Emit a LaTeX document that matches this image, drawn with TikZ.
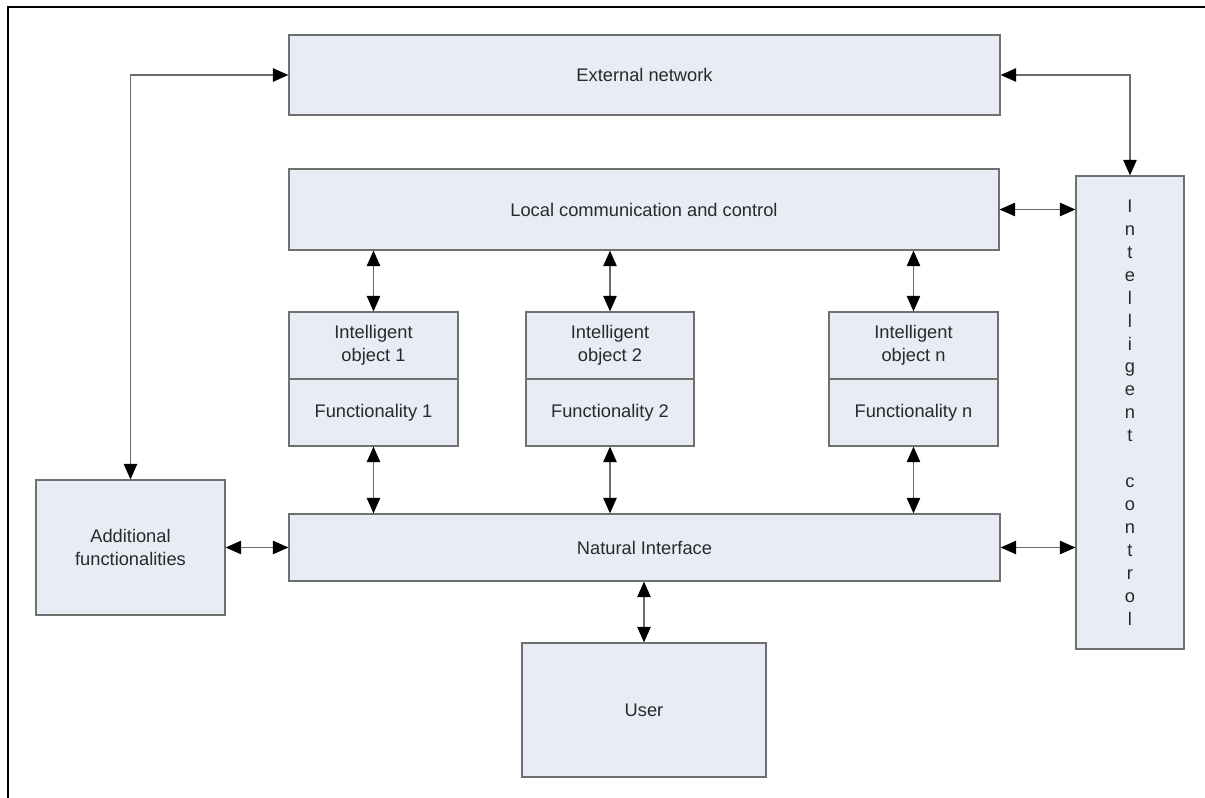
\documentclass[tikz,border=0pt]{standalone}
\usepackage{fontspec}
\setmainfont{Liberation Sans}
\usetikzlibrary{arrows.meta}
\definecolor{boxfill}{HTML}{E8ECF5}
\definecolor{boxline}{HTML}{707070}
\definecolor{boxtext}{HTML}{2A2A2A}
\definecolor{linkline}{HTML}{6A6A6A}

\begin{document}
\begin{tikzpicture}
\tikzset{block/.style={draw=boxline,line width=0.9pt,fill=boxfill,text=boxtext,align=center,inner sep=0pt,font=\fontsize{13}{16.3}\selectfont},
  link/.style={>={Triangle[length=11pt,width=9.5pt,color=black]},<->,draw=linkline,line width=1pt}};
\useasboundingbox (0,0) rectangle (30.125,-19.95);
\draw[line width=0.8pt] (0.2,-19.95) -- (0.2,-0.175) -- (30.125,-0.175);
    \node[block,minimum width=17.775cm,minimum height=2cm] (ext) at (16.1125,-1.875) {External network};
    \node[block,minimum width=17.75cm,minimum height=2.025cm] (lcc) at (16.1,-5.2375) {Local communication and control};
    \node[block,minimum width=2.7cm,minimum height=11.825cm] (ictl) at (28.25,-10.3125) {I\\n\\t\\e\\l\\l\\i\\g\\e\\n\\t\\\mbox{}\\c\\o\\n\\t\\r\\o\\l};
    \node[block,minimum width=4.225cm,minimum height=1.675cm] (obj1) at (9.3375,-8.6375) {Intelligent\\object 1};
    \node[block,minimum width=4.225cm,minimum height=1.675cm] (fun1) at (9.3375,-10.3125) {Functionality 1};
    \node[block,minimum width=4.2cm,minimum height=1.675cm] (obj2) at (15.25,-8.6375) {Intelligent\\object 2};
    \node[block,minimum width=4.2cm,minimum height=1.675cm] (fun2) at (15.25,-10.3125) {Functionality 2};
    \node[block,minimum width=4.225cm,minimum height=1.675cm] (objn) at (22.8375,-8.6375) {Intelligent\\object n};
    \node[block,minimum width=4.225cm,minimum height=1.675cm] (funn) at (22.8375,-10.3125) {Functionality n};
    \node[block,minimum width=17.775cm,minimum height=1.675cm] (nif) at (16.1125,-13.6875) {Natural Interface};
    \node[block,minimum width=4.725cm,minimum height=3.375cm] (addf) at (3.2625,-13.6875) {Additional\\functionalities};
    \node[block,minimum width=6.1cm,minimum height=3.35cm] (usr) at (16.1,-17.75) {User};
    % connections
    \draw[link] (ext.west) -| (addf.north);
    \draw[link] (ext.east) -| (ictl.north);
    \draw[link] (lcc.east) -- (lcc.east -| ictl.west);
    \draw[link] (nif.east) -- (nif.east -| ictl.west);
    \draw[link] (addf.east) -- (nif.west);
    \foreach \o/\f in {obj1/fun1,obj2/fun2,objn/funn} {
        \draw[link] (\o.north |- lcc.south) -- (\o.north);
        \draw[link] (\f.south) -- (\f.south |- nif.north);
    }
    \draw[link] (nif.south -| usr.north) -- (usr.north);
\end{tikzpicture}
\end{document}
